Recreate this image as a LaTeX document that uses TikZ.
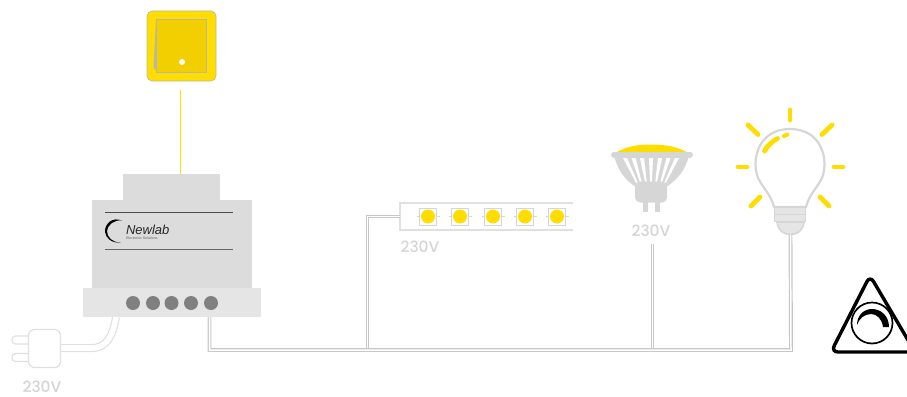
\documentclass[tikz,border=0pt]{standalone}
\usepackage{fontspec}
\setmainfont{Poppins Medium}
\newfontfamily\logofont{Liberation Sans}
\usetikzlibrary{arrows.meta,positioning,calc}
\definecolor{LampYellow}{HTML}{FFDD00}
\definecolor{SwitchYellow}{HTML}{F2CF00}
\definecolor{WireGray}{HTML}{C8C8C8}
\definecolor{LampGray}{HTML}{D6D6D6}
\definecolor{TextGray}{HTML}{D4D4D4}
\definecolor{BodyGray}{HTML}{DCDCDC}
\definecolor{BaseGray}{HTML}{E5E5E5}
\definecolor{PlugGray}{HTML}{E0E0E0}
\definecolor{PortGray}{HTML}{808080}
\definecolor{EdgeGray}{HTML}{B8B8A8}

\begin{document}
\begin{tikzpicture}[x=1pt,y=-1pt,every node/.style={inner sep=0pt,outer sep=0pt}]
    \tikzset{
      housing/.style={fill=#1,draw=none},
      port/.style={circle,fill=PortGray,minimum size=14pt},
      led/.style={circle,fill=LampYellow,minimum size=14pt},
      ledframe/.style={rectangle,draw=LampGray,line width=0.8pt,fill=white,minimum size=17pt},
      volt/.style={font=\fontsize{15.5}{16}\selectfont,text=TextGray},
      wire/.style={draw=WireGray,line width=1.2pt,double=white,double distance=1.5pt},
      plugwire/.style={draw=PlugGray,line width=1.2pt,double=white,double distance=5.6pt},
      ray/.style={draw=LampYellow,line width=4.8pt,line cap=round},
    }
    \useasboundingbox (0,0) rectangle (907,396);

    % switch
    \node[rectangle,rounded corners=5pt,fill=LampYellow,draw=EdgeGray,line width=0.6pt,
      minimum width=69pt,minimum height=70pt] (switch) at (181.5,46) {};
    \fill[EdgeGray] (156,19) -- (153.5,68) -- (158,72) -- cycle;
    \node[rectangle,fill=SwitchYellow,draw=EdgeGray,line width=0.6pt,
      minimum width=50pt,minimum height=53pt] (rocker) at (181.5,45.5) {};
    \node[circle,fill=white,minimum size=6pt] (switchdot) at (182,62) {};

    % module
    \node[housing=BodyGray,minimum width=97pt,minimum height=26pt] (top) at (171.5,187) {};
    \node[housing=BodyGray,minimum width=160pt,minimum height=88pt] (body) at (172,244) {};
    \node[housing=BaseGray,minimum width=178pt,minimum height=29pt] (base) at (172,302.5) {};
    \node[port] (p1) at (133,303) {};
    \node[port] (p2) at (153,303) {};
    \node[port] (p3) at (171.5,303) {};
    \node[port] (p4) at (191,303) {};
    \node[port] (p5) at (211,303) {};
    \coordinate (ruleA) at (105,212);
    \coordinate (ruleB) at (233,212);
    \coordinate (ruleC) at (105,249);
    \coordinate (ruleD) at (233,249);
    \draw[line width=1pt,black!70] (ruleA) -- (ruleB);
    \draw[line width=1pt,black!60] (ruleC) -- (ruleD);

    % logo
    \fill[black] (122,220.5) .. controls (112,216.5) and (104.5,224) .. (105,232)
      .. controls (105.5,238) and (112,243.5) .. (120.5,242.5)
      .. controls (112,242.5) and (107,237) .. (107,231)
      .. controls (107.5,225) and (114,219.5) .. (122,220.5) -- cycle;
    \node[font=\logofont\itshape\fontsize{13}{13}\selectfont,text=black!85,anchor=base west] (logo) at (126,234) {Newlab};
    \node[font=\logofont\fontsize{3.6}{4}\selectfont,text=black!60,anchor=base west] (logosub) at (126,239) {Electronic Solutions};

    % yellow control line
    \coordinate (switchline) at (180.5,90);
    \draw[LampYellow,line width=1.2pt] (switchline) -- (switchline |- top.north);

    % plug
    \coordinate (plugtop) at (116,317);
    \draw[plugwire] (plugtop) .. controls (113,335) and (107,348) .. (92,348)
      -- (60,348);
    \node[rectangle,rounded corners=6pt,draw=PlugGray,line width=1.2pt,fill=white,
      minimum width=32pt,minimum height=38pt] (plug) at (44.5,348.5) {};
    \draw[PlugGray,line width=1.2pt,rounded corners=3.5pt]
      (plug.west |- 0,336) -- (12,336) -- (12,344) -- (plug.west |- 0,344);
    \draw[PlugGray,line width=1.2pt,rounded corners=3.5pt]
      (plug.west |- 0,353.5) -- (12,353.5) -- (12,361.5) -- (plug.west |- 0,361.5);
    \node[volt] (voltplug) at (42,387) {230V};

    % strip
    \coordinate (stripNE) at (573,203);
    \coordinate (stripSE) at (573,230);
    \node[rectangle,minimum width=0pt,minimum height=27pt] (strip) at (400,216.5) {};
    \draw[PlugGray,line width=2pt] (stripNE) -- (strip.north) -- (strip.south) -- (stripSE);
    \foreach \n/\x in {a/428,b/460,c/493,d/525,e/557}{
      \draw[LampGray,line width=0.6pt] (\x-11.5,216.5) -- (\x+11.5,216.5);
      \node[ledframe] (frame\n) at (\x,216.5) {};
      \node[led] (led\n) at (\x,216.5) {};
    }
    \node[volt] (voltstrip) at (420,246.5) {230V};

    % spot lamp
    \fill[LampYellow] (615,153) .. controls (625,147) and (636,144.5) .. (651,144.5)
      .. controls (666,144.5) and (679,147) .. (688,153) -- cycle;
    \fill[LampGray] (614,155) .. controls (617,170) and (626,181) .. (636,187)
      -- (666,187) .. controls (676,181) and (686,170) .. (689,155) -- cycle;
    \foreach \a/\b in {625/638.5,633.5/642,642/646.5,651/651,660/655.5,668.5/660,677/663.5}{
      \fill[white] (\a-2.1,158) -- (\a+2.1,158) -- (\b+0.7,186) -- (\b-0.7,186) -- cycle;
    }
    \draw[LampGray,line width=6pt,line cap=round] (614,154.5) -- (690,154.5);
    \node[rectangle,rounded corners=5pt,fill=LampGray,minimum width=32pt,minimum height=21pt] (cup) at (651,192) {};
    \node[rectangle,fill=LampGray,minimum width=5pt,minimum height=10pt] (pinA) at (645.5,207) {};
    \node[rectangle,fill=LampGray,minimum width=5pt,minimum height=10pt] (pinB) at (657.5,207) {};
    \node[volt] (voltspot) at (651,230.5) {230V};

    % bulb
    \draw[LampGray,line width=2.2pt,fill=white] (774,207)
      .. controls (771,195) and (763,188) .. (758,178)
      .. controls (751,160) and (758,129) .. (790,129)
      .. controls (822,129) and (829,160) .. (822,178)
      .. controls (817,188) and (809,195) .. (806,207) -- cycle;
    \node[rectangle,fill=BaseGray,draw=LampGray,line width=1.6pt,minimum width=31pt,minimum height=7pt] (capA) at (790,211) {};
    \node[rectangle,fill=BaseGray,draw=LampGray,line width=1.6pt,minimum width=31pt,minimum height=7pt] (capB) at (790,218) {};
    \draw[LampGray,line width=1.6pt,fill=BaseGray] (777,222) .. controls (778,231) and (784,234.5) .. (790.5,234.5)
      .. controls (797,234.5) and (803,231) .. (804,222) -- cycle;
    \coordinate (bulbfoot) at (790.5,235);
    \draw[ray] (764.5,151) .. controls (767,146) and (772,141.5) .. (777.5,138.5);
    \draw[ray,line width=4pt] (784,136) -- (787.5,134.5);
    \foreach \a/\b/\c/\d in {790/110/790/120,748/125/758/134.5,832/125/822/134.5,738/167/747/167,
      834/167/843/167,760/197/751/206,820/197/829/206}{
      \draw[ray] (\a,\b) -- (\c,\d);
    }

    % wiring
    \coordinate (busleft) at (209.5,350);
    \coordinate (busstrip) at (367.5,350);
    \coordinate (busspot) at (652.5,350);
    \coordinate (busbulb) at (791,350);
    \coordinate (spottop) at (652.5,244);
    \draw[wire] (strip.west) -- (367.5,216.5) -- (busstrip);
    \draw[wire] (spottop) -- (busspot);
    \draw[wire] (busleft |- base.south) -- (busleft) -- (busbulb) -- (bulbfoot);

    % dimmer sign
    \node[circle,draw=black,line width=1.7pt,minimum size=41pt] (dimdial) at (872,323) {};
    \draw[black,line width=3.4pt,rounded corners=7pt] (870,275.5) -- (831,352) -- (915,352) -- cycle;
    \fill[black] (857,325) .. controls (857,315) and (864,309) .. (872,309)
      .. controls (881,309) and (889,316) .. (889,327) -- (883,327)
      .. controls (882,319) and (877,314) .. (871,314)
      .. controls (864,314) and (859,319) .. (857,325) -- cycle;
  \end{tikzpicture}
\end{document}
